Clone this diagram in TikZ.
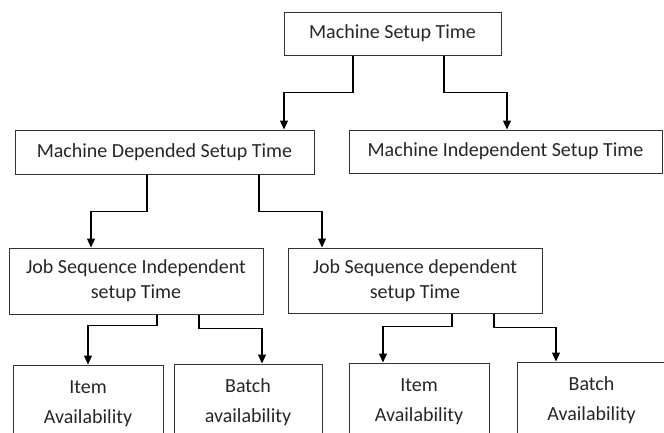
\documentclass[tikz,border=0pt]{standalone}
\usepackage{fontspec}
\setmainfont{Carlito}
\usetikzlibrary{positioning}
\usetikzlibrary{arrows.meta}

\begin{document}
\begin{tikzpicture}[x = 1pt, y = -1pt,
		box/.style = {draw = black!80, line width = 1pt, inner sep = 0pt, text = black!85, align = center, font = \fontsize{20}{25}\selectfont},
		leaf/.style = {box, font = \fontsize{20}{30}\selectfont},
		conn/.style = {black, line width = 1.3pt, -{Triangle[width = 8pt, length = 9pt]}}]
	\clip (0, 0) rectangle (664, 432);
	\node (setup) at (392.5, 33.5) [box, minimum width = 217pt, minimum height = 43pt] {Machine Setup Time};
	\node (mdep) at (164.5, 152) [box, minimum width = 299pt, minimum height = 44pt] {Machine Depended Setup Time};
	\node (mindep) at (505.5, 151.5) [box, minimum width = 313pt, minimum height = 43pt] {Machine Independent Setup Time};
	\node (jsindep) at (136, 281) [box, minimum width = 254pt, minimum height = 66pt] {Job Sequence Independent\\setup Time};
	\node (jsdep) at (415, 280.5) [box, minimum width = 254pt, minimum height = 65pt] {Job Sequence dependent\\setup Time};
	\node (itemA) at (88, 403.5) [leaf, minimum width = 150pt, minimum height = 77pt] {Item\\Availability};
	\node (batchA) at (248, 402.5) [leaf, minimum width = 148pt, minimum height = 77pt] {Batch\\availability};
	\node (itemB) at (419, 401.5) [leaf, minimum width = 140pt, minimum height = 77pt] {Item\\Availability};
	\node (batchB) at (591.5, 400.5) [leaf, minimum width = 149pt, minimum height = 77pt] {Batch\\Availability};
	\draw [conn] (setup.south -| 353, 0) -- ++(0, 37) -| (mdep.north -| 284, 0);
	\draw [conn] (setup.south -| 444, 0) -- ++(0, 37) -| (mindep.north -| 507, 0);
	\draw [conn] (mdep.south -| 147, 0) -- ++(0, 37) -| (jsindep.north -| 91, 0);
	\draw [conn] (mdep.south -| 259, 0) -- ++(0, 37) -| (jsindep.north -| 322, 0);
	\draw [conn] (jsindep.south -| 157, 0) -- ++(0, 11) -| (itemA.north -| 88, 0);
	\draw [conn] (jsindep.south -| 199, 0) -- ++(0, 14) -| (batchA.north -| 262, 0);
	\draw [conn] (jsdep.south -| 452, 0) -- ++(0, 13) -| (itemB.north -| 383, 0);
	\draw [conn] (jsdep.south -| 494, 0) -- ++(0, 14) -| (batchB.north -| 556, 0);
\end{tikzpicture}
\end{document}
